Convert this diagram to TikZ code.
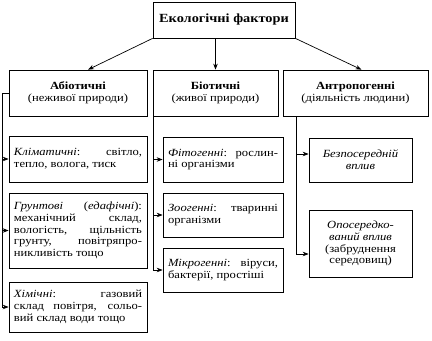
\documentclass[tikz,border=0pt]{standalone}
\usepackage{fontspec}
\setmainfont{Liberation Serif}[FakeStretch=1.15]
\usetikzlibrary{arrows.meta}

\tikzset{
  box/.style={draw, line width=0.7bp, inner xsep=5bp, inner ysep=2bp,
    font=\fontsize{11}{11.8}\selectfont},
  headbox/.style={box, align=center, font=\fontsize{11}{12.5}\selectfont},
  leftbox/.style={box, align=justify, text width=#1},
  infl/.style={box, align=center, font=\fontsize{11}{11.8}\selectfont\itshape},
  link/.style={line width=0.7bp},
  arr/.style={link, -{Stealth[length=6bp,width=4.5bp]}}
}

\begin{document}
\begin{tikzpicture}[x=1bp,y=-1bp]
  \useasboundingbox (0,0) rectangle (432,341);

  % Nodes
  \node[headbox, minimum width=142bp, minimum height=36bp, font=\fontsize{12.5}{13}\selectfont\bfseries]
    (eco) at (224,20) {Екологічні фактори};

  \node[headbox, minimum width=138bp, minimum height=46bp] (abio) at (78,93)
    {\textbf{Абіотичні}\\(неживої природи)};
  \node[headbox, minimum width=125bp, minimum height=46bp] (bio) at (215.5,93)
    {\textbf{Біотичні}\\(живої природи)};
  \node[headbox, minimum width=145bp, minimum height=46bp] (antr) at (355.5,93)
    {\textbf{Антропогенні}\\(діяльність людини)};

  \node[leftbox=128bp, minimum height=46bp] (klim) at (78,159)
    {\emph{Кліматичні}: світло,\linebreak тепло, волога, тиск};
  \node[leftbox=128bp, minimum height=75bp] (grunt) at (78,230.5)
    {\emph{Грунтові} (\emph{едафічні}):\linebreak механічний склад,\linebreak вологість, щільність\linebreak грунту, повітряпро-\linebreak никливість тощо};
  \node[leftbox=128bp, minimum height=50bp] (khim) at (78,307)
    {\emph{Хімічні}: газовий\linebreak склад повітря, сольо-\linebreak вий склад води тощо};

  \node[leftbox=110bp, minimum height=45bp] (fito) at (223,159.5)
    {\emph{Фітогенні}: рослин-\linebreak ні організми};
  \node[leftbox=110bp, minimum height=44bp] (zoo) at (223,215)
    {\emph{Зоогенні}: тваринні\linebreak організми};
  \node[leftbox=110bp, minimum height=44bp] (mikro) at (223,270)
    {\emph{Мікрогенні}: віруси,\linebreak бактерії, простіші};

  \node[infl, minimum width=103bp, minimum height=44bp] (bezp) at (360.5,160)
    {Безпосередній\\вплив};
  \node[infl, minimum width=103bp, minimum height=67bp] (opos) at (360.5,243.5)
    {Опосередко-\\ваний вплив\\\upshape(забруднення\\\upshape середовищ)};

  % Edges
  \draw[arr] (eco.south west) -- ([xshift=10bp]abio.north);
  \draw[arr] (eco.south -| bio.north) -- (bio.north);
  \draw[arr] (eco.south east) -- ([xshift=6bp]antr.north);

  \coordinate (lbus) at (2,93);
  \draw[link] (abio.west) -- (lbus) -- (lbus |- khim.west);
  \draw[arr] (lbus |- klim.west) -- (klim.west);
  \draw[arr] (lbus |- grunt.west) -- (grunt.west);
  \draw[arr] (lbus |- khim.west) -- (khim.west);

  \coordinate (mbus) at (153,116);
  \draw[link] (mbus) -- (mbus |- mikro.west);
  \draw[arr] (mbus |- fito.west) -- (fito.west);
  \draw[arr] (mbus |- zoo.west) -- (zoo.west);
  \draw[arr] (mbus |- mikro.west) -- (mikro.west);

  \coordinate (rbus) at (296,116);
  \coordinate (r1) at (296,154);
  \coordinate (r2) at (296,254);
  \draw[link] (rbus) -- (r2);
  \draw[arr] (r1) -- (r1 -| bezp.west);
  \draw[arr] (r2) -- (r2 -| opos.west);
\end{tikzpicture}
\end{document}
